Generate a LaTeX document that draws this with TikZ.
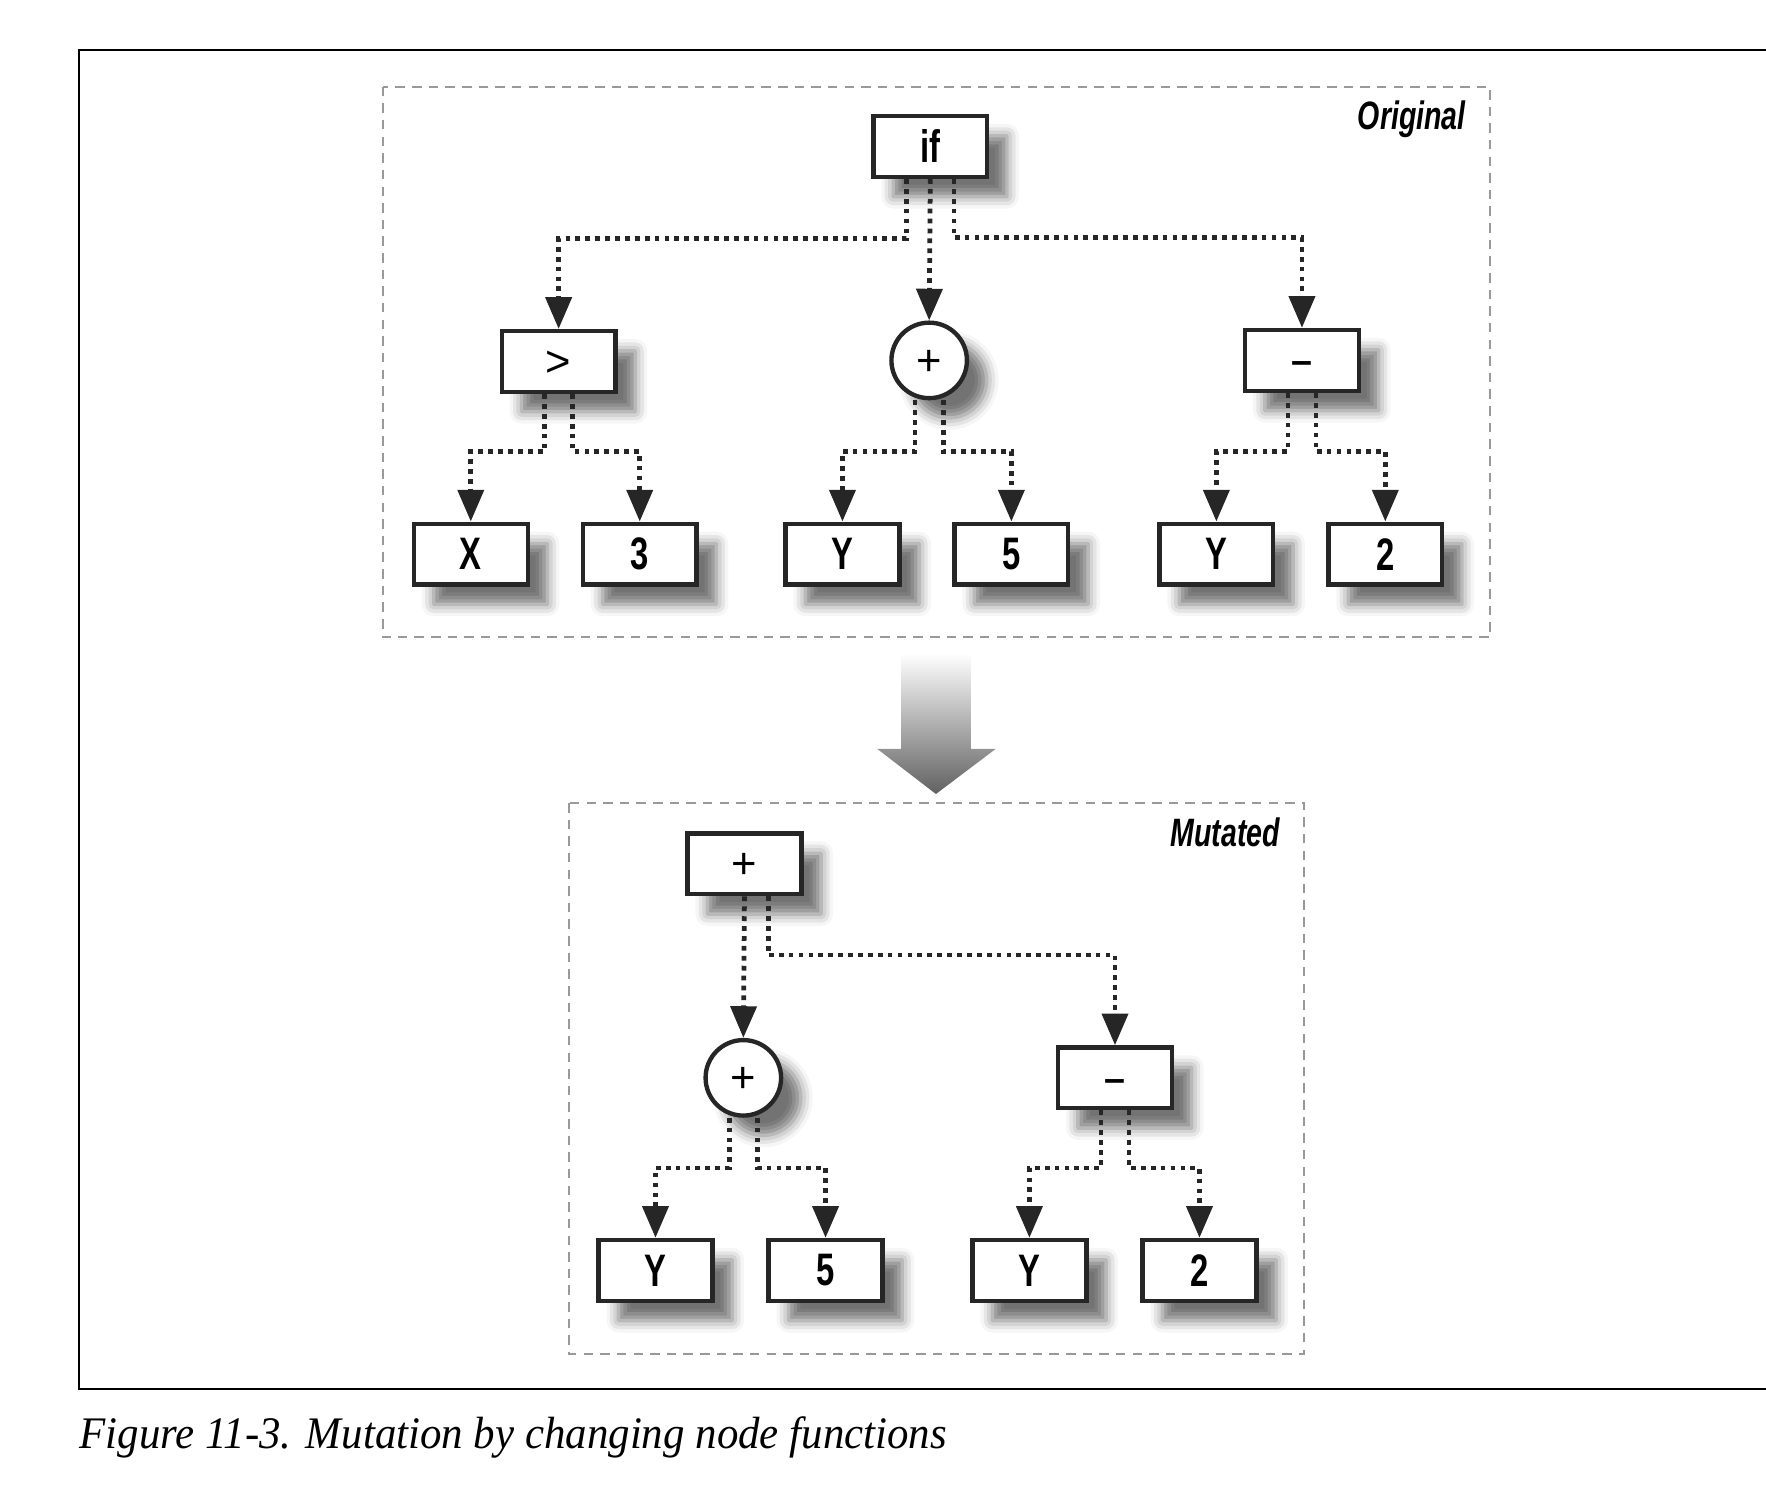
\documentclass[tikz,border=0pt]{standalone}
\usepackage{fontspec}
\setmainfont{Liberation Serif}
\newfontfamily\condfont[FakeStretch=0.72]{Liberation Sans}
\newfontfamily\opfont{Liberation Sans}
\newfontfamily\capfont[FakeStretch=0.95]{Liberation Serif}
\usetikzlibrary{arrows.meta,shadows.blur}

\begin{document}
\begin{tikzpicture}[x=0.01cm, y=-0.01cm,
    treebox/.style={rectangle, draw=black!85, line width=1.1pt, fill=white,
        minimum width=1.01cm, minimum height=0.54cm, inner sep=0pt,
        font=\condfont\bfseries\fontsize{11.5}{12}\selectfont,
        blur shadow={shadow xshift=5pt, shadow yshift=-5pt, shadow blur radius=3pt, shadow opacity=55}},
    opbox/.style={treebox, font=\opfont\fontsize{11}{12}\selectfont},
    opcircle/.style={opbox, circle, minimum size=0.67cm},
    link/.style={draw=black!85, line width=1.2pt, dash pattern=on 1.2pt off 1.3pt,
        -{Triangle[length=8pt,width=6.5pt]}},
    framebox/.style={draw=black!40, line width=0.5pt, dash pattern=on 2.4pt off 1.8pt},
    tag/.style={font=\condfont\bfseries\itshape\fontsize{10}{12}\selectfont,
        anchor=north east, inner sep=0pt}]

    \newcommand*{\sidegap}{0.125cm}%
    \newcommand*{\topgap}{0.21cm}%
    \newcommand*{\opsym}[1]{\vphantom{X}#1}%
    \newcommand*{\dash}{\vphantom{X}\raisebox{0.4pt}{\bfseries\fontsize{9.5}{10}\selectfont –}}%

    \useasboundingbox (0,0) rectangle (1568,1337);
    \draw[line width=0.5pt] (70,44) rectangle (1620,1233);

    % frames
    \draw[framebox] (340,77) rectangle (1323,566);
    \draw[framebox] (505,713) rectangle (1158,1202);
    \node[tag] (orig) at (1302,89) {Original};
    \node[tag] (mut) at (1137,725) {Mutated};

    % original tree
    \node[treebox] (if) at (826,130) {if};
    \node[opbox] (gt) at (496,321) {\opsym{>}};
    \node[opcircle] (plA) at (825,320) {\opsym{+}};
    \node[opbox] (miA) at (1156,320) {\dash};

    \foreach \x/\lbl/\name in {418/X/xA, 568/3/tA, 748/Y/yA, 898/5/fA, 1080/Y/yB, 1230/2/wA}
        \node[treebox] (\name) at (\x,492) {\lbl};

    % mutated tree
    \node[opbox] (plM) at (661,767) {\opsym{+}};
    \node[opcircle] (plB) at (660,957) {\opsym{+}};
    \node[opbox] (miB) at (990,957) {\dash};

    \foreach \x/\lbl/\name in {582/Y/yC, 733/5/fB, 914/Y/yD, 1065/2/wB}
        \node[treebox] (\name) at (\x,1128) {\lbl};

    % top level ↓
    \draw[link] ([xshift=-\topgap]if.south) |- ([yshift=0.8cm]gt.north) -- (gt.north);
    \draw[link] (if.south) -- (plA.north);
    \draw[link] ([xshift=\topgap]if.south) |- ([yshift=0.8cm]miA.north) -- (miA.north);

    \draw[link] (plM.south) -- (plB.north);
    \draw[link] ([xshift=\topgap]plM.south) |- ([yshift=0.8cm]miB.north) -- (miB.north);

    % leaves ↓
    \foreach \p/\l/\r in {gt/xA/tA, plA/yA/fA, miA/yB/wA, plB/yC/fB, miB/yD/wB}
    {
        \draw[link] ([xshift=-\sidegap]\p.south) |- ([yshift=0.62cm]\l.north) -- (\l.north);
        \draw[link] ([xshift=\sidegap]\p.south) |- ([yshift=0.62cm]\r.north) -- (\r.north);
    }

    % mutation arrow
    \shade[top color=white, bottom color=black!62]
        (800,580) -- (862,580) -- (862,665) -- (884,665) -- (831,705)
        -- (779,665) -- (800,665) -- cycle;

    \node[anchor=base west, inner sep=0pt, font=\capfont\itshape\fontsize{11.4}{13}\selectfont]
        (caption) at (70,1286) {Figure 11-3. Mutation by changing node functions};

\end{tikzpicture}
\end{document}
